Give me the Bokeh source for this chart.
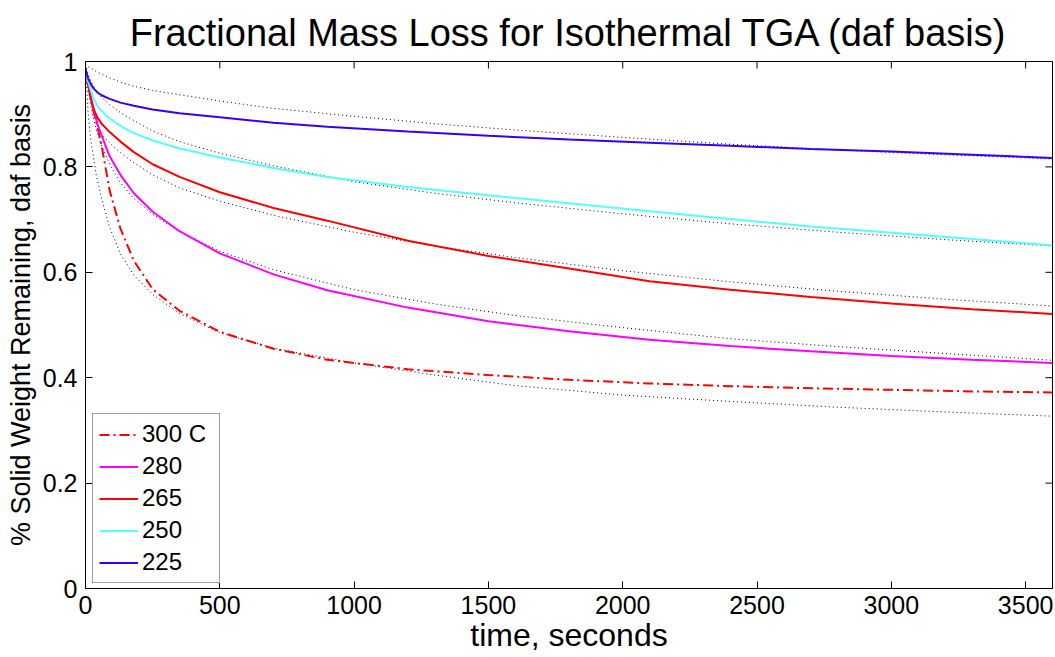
import math
from bokeh.plotting import figure
from bokeh.models import (FixedTicker, CustomJSTickFormatter, Legend, LegendItem, Range1d)
from bokeh.embed import file_html
from bokeh.resources import INLINE

# ---------------- data ----------------
t_meas = [0, 10, 20, 30, 45, 60, 90, 130, 180, 250, 350, 500, 700, 900,
          1200, 1500, 1800, 2100, 2400, 2700, 3000, 3300, 3600]
w_300 = [0.985, 0.955, 0.930, 0.905, 0.875, 0.840, 0.755, 0.683, 0.622, 0.568,
         0.527, 0.487, 0.455, 0.434, 0.416, 0.405, 0.396, 0.389, 0.384, 0.380,
         0.377, 0.374, 0.372]
w_280 = [0.985, 0.957, 0.932, 0.910, 0.880, 0.860, 0.820, 0.785, 0.750, 0.715,
         0.678, 0.636, 0.596, 0.566, 0.533, 0.507, 0.488, 0.472, 0.460, 0.450,
         0.441, 0.434, 0.428]
w_265 = [0.985, 0.955, 0.930, 0.910, 0.893, 0.882, 0.866, 0.848, 0.828, 0.805,
         0.781, 0.752, 0.722, 0.698, 0.660, 0.631, 0.607, 0.583, 0.567, 0.553,
         0.541, 0.530, 0.521]
w_250 = [0.985, 0.962, 0.945, 0.930, 0.915, 0.906, 0.892, 0.878, 0.864, 0.850,
         0.835, 0.818, 0.798, 0.781, 0.762, 0.746, 0.731, 0.716, 0.701, 0.687,
         0.675, 0.663, 0.651]
w_225 = [0.985, 0.968, 0.957, 0.949, 0.941, 0.936, 0.929, 0.922, 0.916, 0.909,
         0.902, 0.894, 0.884, 0.876, 0.867, 0.859, 0.852, 0.846, 0.840, 0.834,
         0.829, 0.823, 0.817]

t_fit = [0, 10, 20, 40, 60, 90, 130, 180, 250, 350, 500, 700, 1000, 1300,
         1600, 2000, 2400, 2800, 3200, 3600]
fit_300 = [0.990, 0.900, 0.850, 0.785, 0.740, 0.685, 0.635, 0.595, 0.558, 0.522,
           0.485, 0.456, 0.428, 0.405, 0.385, 0.367, 0.355, 0.344, 0.335, 0.327]
fit_280 = [0.990, 0.945, 0.915, 0.870, 0.840, 0.805, 0.770, 0.740, 0.710, 0.677,
           0.640, 0.605, 0.567, 0.540, 0.518, 0.495, 0.474, 0.459, 0.446, 0.433]
fit_265 = [0.990, 0.955, 0.925, 0.885, 0.862, 0.845, 0.827, 0.808, 0.785, 0.760,
           0.735, 0.708, 0.676, 0.650, 0.628, 0.603, 0.582, 0.564, 0.549, 0.536]
fit_250 = [0.995, 0.975, 0.962, 0.945, 0.932, 0.918, 0.903, 0.888, 0.868, 0.848,
           0.826, 0.802, 0.772, 0.750, 0.732, 0.711, 0.692, 0.676, 0.662, 0.650]
fit_225 = [0.995, 0.990, 0.987, 0.981, 0.976, 0.969, 0.961, 0.953, 0.945, 0.937,
           0.925, 0.911, 0.896, 0.882, 0.870, 0.856, 0.843, 0.832, 0.823, 0.815]

labels = ["300 C", "280", "265", "250", "225"]
x_ticks = [0, 500, 1000, 1500, 2000, 2500, 3000, 3500]
y_ticks = [0, 0.2, 0.4, 0.6, 0.8, 1.0]
X_MAX = 3600
Y_MAX = 1.0

FONT = "Liberation Sans"

# ---------------- figure ----------------
p = figure(width=1055, height=657, x_range=Range1d(0, X_MAX), y_range=Range1d(0, Y_MAX),
           output_backend="svg", toolbar_location=None,
           min_border_left=85, min_border_right=3, min_border_top=61,
           min_border_bottom=69)
p.title.text = "Fractional Mass Loss for Isothermal TGA (daf basis)"
p.title.text_font = FONT
p.title.text_font_size = "38px"
p.title.text_font_style = "normal"
p.title.align = "center"
p.title.text_color = "black"
p.title.standoff = 16
p.grid.visible = False
p.outline_line_color = "black"
p.outline_line_width = 1
p.background_fill_color = "white"
p.border_fill_color = "white"

xa = p.xaxis[0]
ya = p.yaxis[0]
xa.ticker = FixedTicker(ticks=x_ticks)
ya.ticker = FixedTicker(ticks=y_ticks)
ya.formatter = CustomJSTickFormatter(code="return String(Math.round(tick*10)/10);")
for ax in (xa, ya):
    ax.major_tick_in = 7
    ax.major_tick_out = 0
    ax.minor_tick_line_color = None
    ax.axis_line_color = "black"
    ax.major_tick_line_color = "black"
    ax.major_label_text_font = FONT
    ax.major_label_text_font_size = "25px"
    ax.major_label_text_color = "black"
    ax.axis_label_text_font = FONT
    ax.axis_label_text_font_style = "normal"
    ax.axis_label_text_color = "black"

xa.axis_label = "time, seconds"
xa.axis_label_text_font_size = "32px"
xa.major_label_standoff = 7
xa.axis_label_standoff = 0

ya.axis_label = "% Solid Weight Remaining, daf basis"
ya.axis_label_text_font_size = "27px"
ya.major_label_standoff = 8
ya.axis_label_standoff = 4

# inward tick marks on the top and right edges of the box (clipped to the frame)
p.scatter(x=x_ticks, y=[Y_MAX] * len(x_ticks), marker="dash", size=14,
          angle=math.pi / 2, line_color="black", line_width=1)
p.scatter(x=[X_MAX] * len(y_ticks), y=y_ticks, marker="dash", size=14,
          line_color="black", line_width=1)

# fits (dotted black)
for fy in [fit_300, fit_280, fit_265, fit_250, fit_225]:
    p.line(t_fit, fy, line_color="black", line_width=1, line_dash="1 3")

r300 = p.line(t_meas, w_300, line_color="#FF0000", line_width=2, line_dash="10 4 2 4")
r280 = p.line(t_meas, w_280, line_color="#FF00FF", line_width=2)
r265 = p.line(t_meas, w_265, line_color="#FF0000", line_width=2)
r250 = p.line(t_meas, w_250, line_color="#55FFFF", line_width=2)
r225 = p.line(t_meas, w_225, line_color="#3300FF", line_width=2)

items = [LegendItem(label=l, renderers=[r]) for l, r in
         zip(labels, [r300, r280, r265, r250, r225])]
leg = Legend(items=items, location=(7, 5), label_text_font=FONT,
             label_text_font_size="24px", label_text_color="black",
             glyph_width=39, glyph_height=27,
             label_height=27, label_width=71, spacing=4, padding=6, margin=0,
             label_standoff=4, border_line_color="#404040", border_line_width=1,
             background_fill_color="white", background_fill_alpha=1)
p.add_layout(leg)

open("out.html", "w").write(file_html(p, INLINE))
